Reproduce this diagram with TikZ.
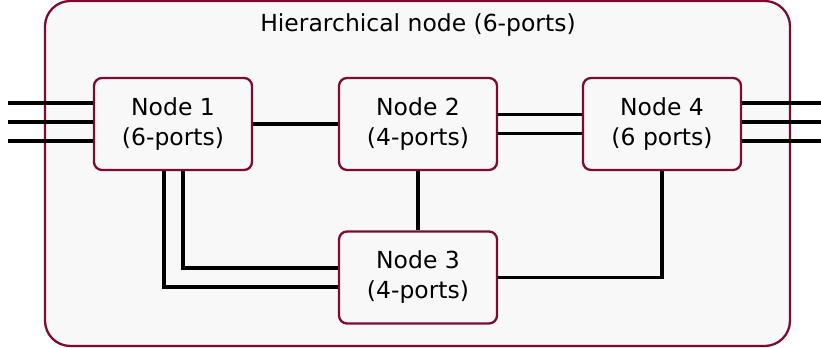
\documentclass[tikz,border=0pt]{standalone}
\usepackage{fontspec}
\setmainfont{DejaVu Sans}
\definecolor{frame}{HTML}{7D0A30}
\definecolor{panel}{HTML}{F8F8F8}
\begin{document}
\begin{tikzpicture}[x=0.75pt,y=-0.75pt,
  box/.style={draw=frame,line width=1.7pt,fill=panel,rounded corners=6pt,
    minimum width=118.5pt,minimum height=69pt,inner sep=0pt,align=center,
    font=\fontsize{17.6}{22.5}\selectfont},
  link/.style={line width=2.6pt,black}]
\useasboundingbox (0,0) rectangle (821,348);
% enclosing hierarchical node
\draw[draw=frame,line width=1.7pt,fill=panel,rounded corners=19pt] (45,1) rectangle (790,346);
\node[font=\fontsize{17.6}{20}\selectfont] (title) at (418,25) {Hierarchical node (6-ports)};
% external port lines
\coordinate (l1) at (8,103); \coordinate (l2) at (8,122); \coordinate (l3) at (8,141);
\coordinate (r1) at (821,103); \coordinate (r2) at (821,122); \coordinate (r3) at (821,141);
% inner nodes
\node[box] (n1) at (173,124) {Node 1\\(6-ports)};
\node[box] (n2) at (418,124) {Node 2\\(4-ports)};
\node[box] (n4) at (662,124) {Node 4\\(6 ports)};
\node[box] (n3) at (418,277.5) {Node 3\\(4-ports)};
% connectors
\draw[link] (l1) -- (l1 -| n1.west);
\draw[link] (l2) -- (l2 -| n1.west);
\draw[link] (l3) -- (l3 -| n1.west);
\draw[link] (r1 -| n4.east) -- (r1);
\draw[link] (r2 -| n4.east) -- (r2);
\draw[link] (r3 -| n4.east) -- (r3);
\draw[link] (n1.east) -- (n2.west);
\draw[link] ([yshift=7.125pt]n2.east) -- ([yshift=7.125pt]n4.west);
\draw[link] ([yshift=-7.125pt]n2.east) -- ([yshift=-7.125pt]n4.west);
\draw[link] (n2.south) -- (n3.north);
\coordinate (c1) at (183,268);
\coordinate (c2) at (164,287);
\draw[link] (c1 |- n1.south) -- (c1) -- (c1 -| n3.west);
\draw[link] (c2 |- n1.south) -- (c2) -- (c2 -| n3.west);
\draw[link] (n3.east) -| (n4.south);
\end{tikzpicture}
\end{document}
